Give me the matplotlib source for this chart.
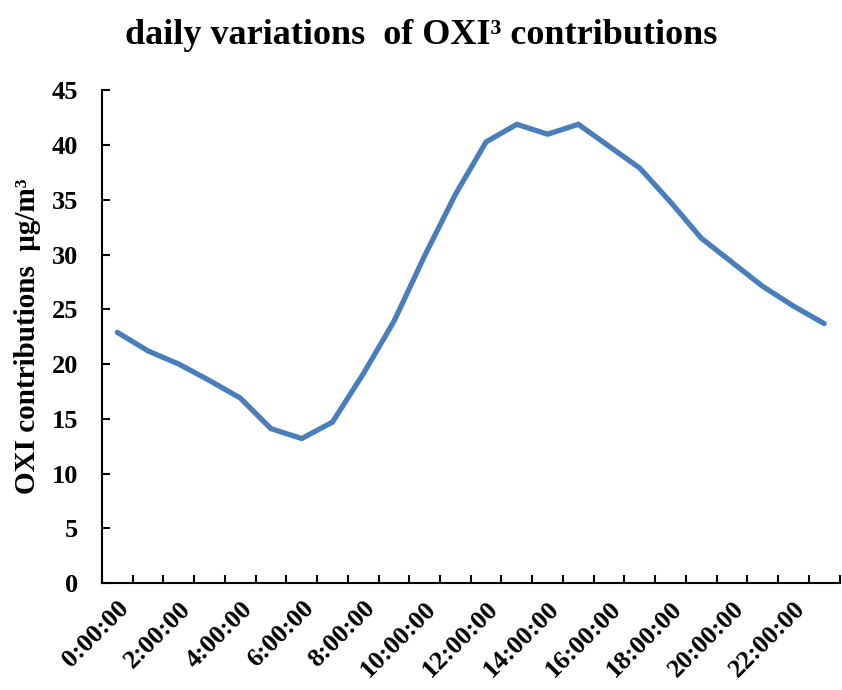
import matplotlib
matplotlib.use("Agg")
import matplotlib.pyplot as plt
import numpy as np

hours = [f"{h}:00:00" for h in range(24)]
values = [22.9, 21.2, 20.0, 18.5, 16.9, 14.1, 13.2, 14.7, 19.1, 23.9, 29.9, 35.5,
          40.3, 41.9, 41.0, 41.9, 39.9, 37.9, 34.8, 31.5, 29.3, 27.1, 25.3, 23.7]
yticks = [0, 5, 10, 15, 20, 25, 30, 35, 40, 45]

plt.rcParams['font.family'] = ['Liberation Serif', 'DejaVu Serif']
plt.rcParams['font.weight'] = 'bold'

fig = plt.figure(figsize=(8.42, 6.90), dpi=100)
ax = fig.add_axes([0.1211, 0.155, 0.876, 0.714])

x = np.arange(len(hours))
ax.plot(x, values, color='#4A7EBB', lw=3.8, solid_capstyle='round', solid_joinstyle='miter')

ax.set_xlim(-0.5, len(hours) - 0.5)
ax.set_ylim(0, 45)
ax.set_yticks(yticks)
ax.set_yticklabels([str(v) for v in yticks], fontsize=19, fontweight='bold')

ax.set_xticks(np.arange(-0.5, len(hours), 1), minor=False)
ax.set_xticklabels([])
ax.set_xticks(x[::2], minor=True)
ax.set_xticklabels(hours[::2], minor=True, rotation=45, ha='right', va='top',
                   fontsize=19, fontweight='bold', rotation_mode='anchor')
ax.tick_params(axis='x', which='minor', length=0, pad=10)
ax.tick_params(axis='x', which='major', direction='in', length=6, width=1.5)
ax.tick_params(axis='y', direction='in', length=6, width=1.5, pad=17)

for s in ['top', 'right']:
    ax.spines[s].set_visible(False)
for s in ['left', 'bottom']:
    ax.spines[s].set_linewidth(1.5)

ax.set_ylabel('OXI contributions  μg/m³', fontsize=21, fontweight='bold', labelpad=8)
fig.suptitle('daily variations  of OXI³ contributions', fontsize=26, fontweight='bold', y=0.972)

fig.savefig('out.png', dpi=100)
